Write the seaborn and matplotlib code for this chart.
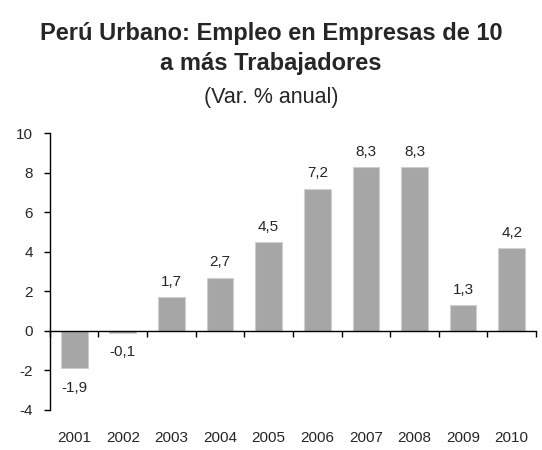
import matplotlib
matplotlib.use('Agg')
import matplotlib.pyplot as plt
import pandas as pd
import seaborn as sns

sns.set_style("white")
plt.rcParams['font.family'] = ['Liberation Sans', 'DejaVu Sans']
plt.rcParams['axes.unicode_minus'] = False

years = ['2001', '2002', '2003', '2004', '2005', '2006', '2007', '2008', '2009', '2010']
values = [-1.9, -0.1, 1.7, 2.7, 4.5, 7.2, 8.3, 8.3, 1.3, 4.2]

df = pd.DataFrame({'year': years, 'value': values})

fig = plt.figure(figsize=(5.42, 4.5), dpi=100)
ax = fig.add_axes([0.092, 0.089, 0.897, 0.615])

sns.barplot(data=df, x='year', y='value', color='#A6A6A6', width=0.55,
            edgecolor='#D0D0D0', linewidth=0.8, saturation=1, ax=ax)

ax.set_ylim(-4, 10)
ax.set_yticks(range(-4, 11, 2))
ax.set_xlim(-0.5, len(years) - 0.5)
ax.set_xlabel('')
ax.set_ylabel('')

for s in ['top', 'right', 'bottom']:
    ax.spines[s].set_visible(False)
ax.spines['left'].set_color('black')
ax.spines['left'].set_linewidth(1)
ax.tick_params(axis='y', direction='out', length=4, width=1, color='black',
               left=True, labelsize=11, pad=8)
ax.tick_params(axis='x', length=0, labelsize=11, pad=15)

# axis line at zero with ticks between categories
ax2 = ax.twiny()
ax2.set_xlim(ax.get_xlim())
for s in ['top', 'right', 'left']:
    ax2.spines[s].set_visible(False)
ax2.xaxis.set_ticks_position('bottom')
ax2.spines['bottom'].set_position(('data', 0))
ax2.spines['bottom'].set_color('black')
ax2.spines['bottom'].set_linewidth(1)
ax2.set_xticks([i - 0.5 for i in range(len(years) + 1)])
ax2.set_xticklabels([])
ax2.tick_params(axis='x', direction='out', length=4, width=1, color='black')

for i, v in enumerate(values):
    label = f"{v:.1f}".replace('.', ',')
    off = 11 if v >= 0 else -14
    ax.annotate(label, (i, v), xytext=(0, off), textcoords='offset points',
                ha='center', va='center', fontsize=11)

fig.text(0.5, 0.911, 'Perú Urbano: Empleo en Empresas de 10', ha='center',
         va='baseline', fontsize=17, fontweight='bold')
fig.text(0.5, 0.844, 'a más Trabajadores', ha='center',
         va='baseline', fontsize=17, fontweight='bold')
fig.text(0.5, 0.771, '(Var. % anual)', ha='center', va='baseline', fontsize=15.5)

fig.savefig('out.png', dpi=100)
